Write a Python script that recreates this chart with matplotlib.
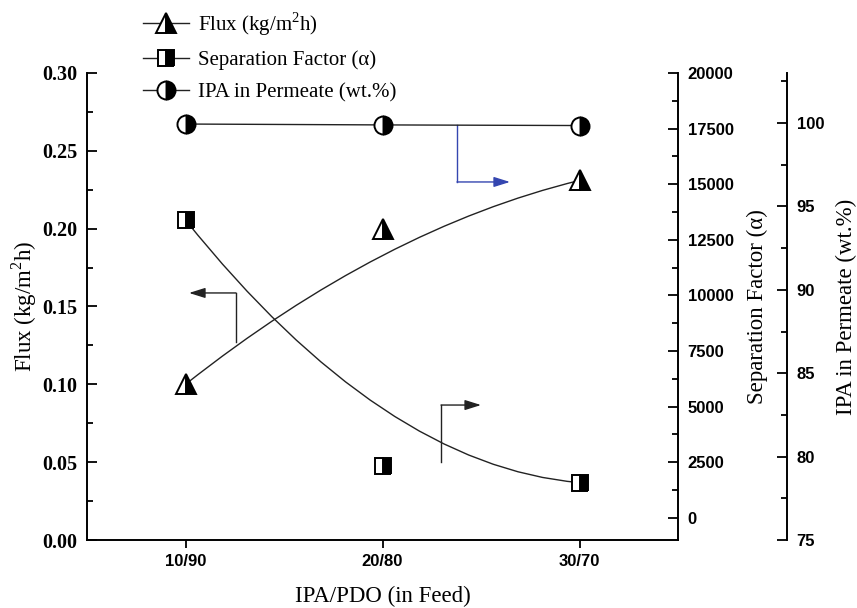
import matplotlib
matplotlib.use("Agg")
import matplotlib.pyplot as plt
from matplotlib.path import Path
from matplotlib.patches import PathPatch
from matplotlib.lines import Line2D
from matplotlib.ticker import MultipleLocator, FormatStrFormatter

# ---- data -------------------------------------------------------------
feeds = ["10/90", "20/80", "30/70"]
flux = [0.100, 0.200, 0.231]              # kg/m2h
sep_factor = [13390, 2340, 1580]          # alpha
ipa_permeate = [99.94, 99.88, 99.85]      # wt.%

SERIF = "Liberation Serif"
SANS = "Liberation Sans"
LINE = "#222222"

plt.rcParams["mathtext.fontset"] = "custom"
plt.rcParams["mathtext.rm"] = SERIF

fig = plt.figure(figsize=(8.57, 6.08), dpi=100)
ax = fig.add_axes([87 / 857, 1 - 540 / 608, (678 - 87) / 857, (540 - 73) / 608])
ax2 = ax.twinx()
ax3 = ax.twinx()
ax3.spines["right"].set_position(("axes", (787 - 87) / 591))

x = list(range(1, len(feeds) + 1))

# ---- spines -----------------------------------------------------------
for a in (ax, ax2, ax3):
    for s in a.spines.values():
        s.set_linewidth(1.4)
    a.spines["top"].set_visible(False)
ax.spines["right"].set_visible(False)
for a in (ax2, ax3):
    a.spines["left"].set_visible(False)
    a.spines["bottom"].set_visible(False)

# ---- limits and ticks -------------------------------------------------
ax.set_xlim(0.5, 3.5)
ax.set_ylim(0.0, 0.30)
ax2.set_ylim(-1000, 20000)
ax3.set_ylim(75, 103)

ax.set_xticks(x)
ax.set_xticklabels(feeds)
ax.yaxis.set_major_locator(MultipleLocator(0.05))
ax.yaxis.set_minor_locator(MultipleLocator(0.025))
ax.yaxis.set_major_formatter(FormatStrFormatter("%.2f"))
ax2.set_yticks(range(0, 20001, 2500))
ax2.yaxis.set_minor_locator(MultipleLocator(1250))
ax3.yaxis.set_major_locator(MultipleLocator(5))
ax3.yaxis.set_minor_locator(MultipleLocator(2.5))

ax.tick_params(axis="x", which="both", direction="out", length=6, width=1.3,
               top=False, pad=4)
ax.tick_params(axis="y", which="major", direction="in", length=7, width=1.3,
               right=False, pad=7)
ax.tick_params(axis="y", which="minor", direction="in", length=4, width=1.3,
               right=False)
for a in (ax2, ax3):
    a.tick_params(axis="y", which="major", direction="in", length=7, width=1.3, pad=7)
    a.tick_params(axis="y", which="minor", direction="in", length=4, width=1.3)

for lab in ax.get_yticklabels():
    lab.set_fontfamily(SERIF)
    lab.set_fontweight("bold")
    lab.set_fontsize(14.5)
for lab in ax.get_xticklabels():
    lab.set_fontfamily(SANS)
    lab.set_fontweight("bold")
    lab.set_fontsize(12)
for a in (ax2, ax3):
    for lab in a.get_yticklabels():
        lab.set_fontfamily(SANS)
        lab.set_fontweight("bold")
        lab.set_fontsize(12)

# ---- axis labels ------------------------------------------------------
lab_kw = dict(fontfamily=SERIF, fontsize=16.5)
flux_label = r"Flux (kg/m$^{\mathregular{2}}$h)"
ax.set_xlabel("IPA/PDO (in Feed)", labelpad=12, **lab_kw)
ax.set_ylabel(flux_label, va="center", **lab_kw)
ax.yaxis.set_label_coords((24 - 87) / 591, 0.5)
ax2.set_ylabel("Separation Factor (α)", va="center", **lab_kw)
ax2.yaxis.set_label_coords((757 - 87) / 591, 0.5)
ax3.set_ylabel("IPA in Permeate (wt.%)", va="center", **lab_kw)
ax3.yaxis.set_label_coords((846 - 87) / 591, 0.5)


# ---- smoothed connection lines (quadratic B-spline through the points) --
def spline_patch(a, ys):
    verts = list(zip(x, ys))
    codes = [Path.MOVETO] + [Path.CURVE3] * (len(verts) - 1)
    patch = PathPatch(Path(verts, codes), facecolor="none", edgecolor=LINE,
                      lw=1.0, transform=a.transData, zorder=2)
    a.add_patch(patch)


spline_patch(ax, flux)
spline_patch(ax2, sep_factor)
spline_patch(ax3, ipa_permeate)

marker_style = dict(markeredgecolor="black", markerfacecolor="black",
                    markerfacecoloralt="white", fillstyle="right",
                    markeredgewidth=1.4)
ax.plot(x, flux, ls="none", marker="^", markersize=14, zorder=5, clip_on=False, **marker_style)
ax2.plot(x, sep_factor, ls="none", marker="s", markersize=11, zorder=5, clip_on=False, **marker_style)
ax3.plot(x, ipa_permeate, ls="none", marker="o", markersize=13, zorder=5, clip_on=False, **marker_style)

# ---- guide arrows pointing to the matching axis ------------------------
guides = [
    # (vertical start, corner, arrow tip, colour) in feed / flux coordinates
    ((2.378, 0.2666), (2.378, 0.2300), (2.647, 0.2300), "#3446b0"),
    ((1.256, 0.1272), (1.256, 0.1587), (1.018, 0.1587), LINE),
    ((2.297, 0.0501), (2.297, 0.0867), (2.500, 0.0867), LINE),
]
for start, corner, tip, col in guides:
    ax.plot([start[0], corner[0]], [start[1], corner[1]], color=col, lw=1.0, zorder=3)
    ax.annotate("", xy=tip, xytext=corner,
                arrowprops=dict(arrowstyle="-|>,head_length=0.7,head_width=0.22",
                                color=col, lw=1.0, shrinkA=0, shrinkB=0,
                                mutation_scale=14), zorder=3)

# ---- legend -----------------------------------------------------------
handles = [
    Line2D([], [], color=LINE, lw=1.0, marker="^", markersize=14, **marker_style),
    Line2D([], [], color=LINE, lw=1.0, marker="s", markersize=11, **marker_style),
    Line2D([], [], color=LINE, lw=1.0, marker="o", markersize=13, **marker_style),
]
labels = [flux_label, "Separation Factor (α)", "IPA in Permeate (wt.%)"]
fig.legend(handles, labels, loc="upper left", bbox_to_anchor=(143 / 857, 1 - 10 / 608),
           frameon=False, borderpad=0, borderaxespad=0, handlelength=2.2,
           handletextpad=0.45, labelspacing=0.62, numpoints=1,
           prop=dict(family=SERIF, size=15))

fig.savefig("out.png", dpi=100)
